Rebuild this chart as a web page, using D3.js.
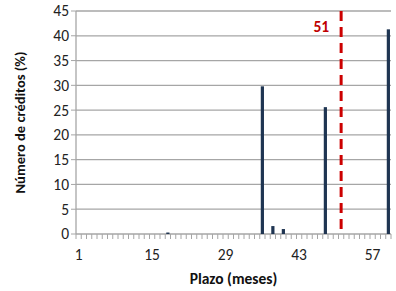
<!DOCTYPE html>
<html>
<head>
<meta charset="utf-8">
<script src="https://cdn.jsdelivr.net/npm/d3@7"></script>
<style>
  body { margin: 0; background: #fff; }
  svg { font-family: Carlito, "Open Sans", "Liberation Sans", sans-serif; }
</style>
</head>
<body>
<svg id="chart" width="396" height="291"></svg>
<script>
// months 1..60
var months = d3.range(1, 61);
// % of credits per term (only non-zero ones listed)
var barMonths = [18, 36, 38, 40, 48, 60];
var barValues = [0.3, 29.8, 1.6, 1.0, 25.6, 41.3];
var yTicks = [0, 5, 10, 15, 20, 25, 30, 35, 40, 45];
var xLabels = [1, 15, 29, 43, 57];
var markMonth = 51;

var svg = d3.select("#chart"),
  margin = { top: 11, right: 5, bottom: 57, left: 76 },
  width = 391 - margin.left,
  height = 291 - margin.top - margin.bottom;

var x = d3.scaleBand().domain(months).range([0, width]);
var y = d3.scaleLinear().domain([0, 45]).range([height, 0]);

var g = svg.append("g")
  .attr("transform", "translate(" + margin.left + "," + margin.top + ")");

// gridlines
g.selectAll(".grid")
  .data(yTicks)
  .enter().append("line")
  .attr("x1", 0).attr("x2", width)
  .attr("y1", function(d) { return y(d); })
  .attr("y2", function(d) { return y(d); })
  .attr("stroke", "#a6a6a6")
  .attr("stroke-width", 1.3);

// y axis line + labels
g.append("line")
  .attr("x1", 0).attr("x2", 0)
  .attr("y1", 0).attr("y2", height)
  .attr("stroke", "#a6a6a6").attr("stroke-width", 1.3);
g.selectAll(".ytick")
  .data(yTicks)
  .enter().append("line")
  .attr("x1", -5).attr("x2", 0)
  .attr("y1", function(d) { return y(d); })
  .attr("y2", function(d) { return y(d); })
  .attr("stroke", "#a6a6a6");
g.selectAll(".ylab")
  .data(yTicks)
  .enter().append("text")
  .attr("x", -7)
  .attr("y", function(d) { return y(d); })
  .attr("dy", "0.35em")
  .attr("text-anchor", "end")
  .attr("font-size", 15.5)
  .attr("fill", "#222")
  .text(function(d) { return d; });

// x axis ticks (category boundaries)
g.selectAll(".xtick")
  .data(months.concat([61]))
  .enter().append("line")
  .attr("x1", function(d) { return d <= 60 ? x(d) : width; })
  .attr("x2", function(d) { return d <= 60 ? x(d) : width; })
  .attr("y1", height).attr("y2", height + 5)
  .attr("stroke", "#a6a6a6");

g.selectAll(".xlab")
  .data(xLabels)
  .enter().append("text")
  .attr("x", function(d) { return x(d) + x.bandwidth() / 2; })
  .attr("y", height + 26)
  .attr("text-anchor", "middle")
  .attr("font-size", 15.5)
  .attr("fill", "#222")
  .text(function(d) { return d; });

// bars
g.selectAll(".bar")
  .data(barMonths)
  .enter().append("rect")
  .attr("x", function(d) { return x(d) + x.bandwidth() / 2 - 1.6; })
  .attr("width", 3.2)
  .attr("y", function(d, i) { return y(barValues[i]); })
  .attr("height", function(d, i) { return height - y(barValues[i]); })
  .attr("fill", "#1f3552");

// red dashed marker
var mx = x(markMonth) + x.bandwidth() / 2;
g.append("line")
  .attr("x1", mx).attr("x2", mx)
  .attr("y1", 0).attr("y2", height - 2)
  .attr("stroke", "#cc0000")
  .attr("stroke-width", 3)
  .attr("stroke-dasharray", "10,6");
g.append("text")
  .attr("x", mx - 12)
  .attr("y", 21)
  .attr("text-anchor", "end")
  .attr("font-size", 15.5)
  .attr("font-weight", "bold")
  .attr("fill", "#c00000")
  .text(markMonth);

// axis titles
g.append("text")
  .attr("x", width / 2)
  .attr("y", height + 50)
  .attr("text-anchor", "middle")
  .attr("font-size", 15.5)
  .attr("font-weight", "bold")
  .attr("fill", "#111")
  .text("Plazo (meses)");

svg.append("text")
  .attr("transform", "translate(25," + (margin.top + height / 2) + ") rotate(-90)")
  .attr("text-anchor", "middle")
  .attr("font-size", 14.5)
  .attr("font-weight", "bold")
  .attr("fill", "#111")
  .text("Número de créditos (%)");
</script>
</body>
</html>
